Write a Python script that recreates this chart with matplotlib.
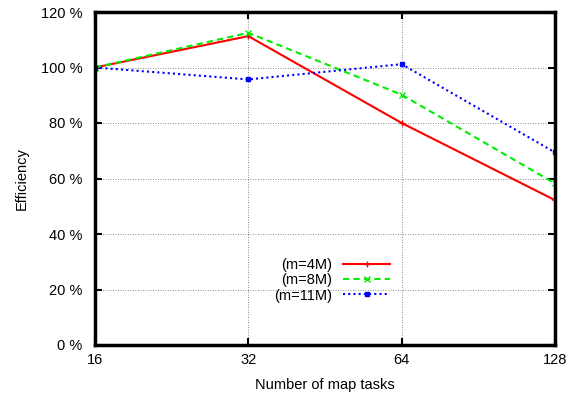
import matplotlib
matplotlib.use("Agg")
import matplotlib.pyplot as plt
from matplotlib.ticker import FixedLocator, FuncFormatter

# data
tasks = [16, 32, 64, 128]
eff_4m = [100, 111.3, 80.0, 52.2]
eff_8m = [100, 112.5, 90.2, 58.2]
eff_11m = [100, 95.7, 101.2, 69.4]
labels = ["(m=4M)", "(m=8M)", "(m=11M)"]

plt.rcParams["font.family"] = ["Liberation Sans", "DejaVu Sans"]
fig = plt.figure(figsize=(5.82, 3.96), dpi=100)
ax = fig.add_axes([95/582, 1-345/396, (555-95)/582, (345-12)/396])

ax.plot(tasks, eff_4m, color="red", ls="-", lw=1.5, marker="+", ms=4, mew=1, label=labels[0])
ax.plot(tasks, eff_8m, color="#00ee00", ls=(0, (3, 2)), lw=1.5, marker="x", ms=4, mew=1, label=labels[1])
ax.plot(tasks, eff_11m, color="blue", ls=(0, (1, 1.5)), lw=1.5, marker="s", ms=3.5, label=labels[2])

ax.set_xscale("log", base=2)
ax.set_xlim(16, 128)
ax.set_ylim(0, 120)
ax.xaxis.set_major_locator(FixedLocator(tasks))
ax.xaxis.set_minor_locator(FixedLocator([]))
ax.xaxis.set_major_formatter(FuncFormatter(lambda v, p: "%d" % v))
ax.set_yticks(range(0, 121, 20))
ax.yaxis.set_major_formatter(FuncFormatter(lambda v, p: "%d %%" % v))
ax.grid(True, color="black", ls=(0, (1, 2)), lw=0.6, alpha=0.6)
ax.tick_params(direction="in", top=True, right=True, length=5, width=1.5, labelsize=10.5)
ax.tick_params(axis="y", pad=9)
ax.tick_params(axis="x", pad=6)
for s in ax.spines.values():
    s.set_linewidth(2.5)

ax.set_xlabel("Number of map tasks", fontsize=10.5, labelpad=8)
ax.set_ylabel("Efficiency", fontsize=10.5, labelpad=9)

ax.legend(loc="center", bbox_to_anchor=(0.515, 0.195), markerfirst=False, frameon=False,
          fontsize=10.5, handlelength=3.2, labelspacing=0.1, handletextpad=0.8)

fig.savefig("out.png")
